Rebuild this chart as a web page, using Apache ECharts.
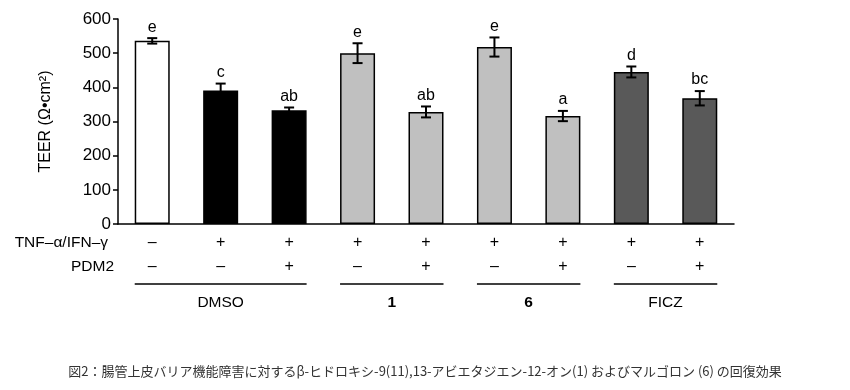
<!DOCTYPE html>
<html>
<head>
<meta charset="utf-8">
<script src="https://cdn.jsdelivr.net/npm/echarts@6/dist/echarts.min.js"></script>
<style>html,body{margin:0;padding:0;background:#fff}#c{width:850px;height:390px}</style>
</head>
<body>
<div id="c"></div>
<script>
const categories = ['c1','c2','c3','c4','c5','c6','c7','c8','c9'];
const tnfRow = ['–','+','+','+','+','+','+','+','+'];
const pdm2Row = ['–','–','+','–','+','–','+','–','+'];
const teerValues = [536, 391, 333, 500, 328, 518, 316, 445, 368];
const teerErrors = [8, 20, 8, 29, 16, 28, 15, 16, 21];
const sigLetters = ['e','c','ab','e','ab','e','a','d','bc'];
const barColors = ['#ffffff','#000000','#000000','#c0c0c0','#c0c0c0','#c0c0c0','#c0c0c0','#595959','#595959'];
const groupNames = ['DMSO','1','6','FICZ'];
const groupStart = [0, 3, 5, 7];
const groupEnd = [2, 4, 6, 8];
const groupBold = [false, true, true, false];
const yTicks = [0, 600, 100];
const caption = '図2：腸管上皮バリア機能障害に対するβ-ヒドロキシ-9(11),13-アビエタジエン-12-オン(1) およびマルゴロン (6) の回復効果';

const FONT = 'Liberation Sans, Arial, sans-serif';
const BAR_W = 35;

const chart = echarts.init(document.getElementById('c'));

const rowAxis = (labels, offset, name, gap) => ({
  type: 'category', data: categories, position: 'bottom', offset: offset,
  axisLine: {show: false}, axisTick: {show: false}, splitLine: {show: false},
  axisLabel: {interval: 0, margin: 0, verticalAlign: 'middle', fontSize: 16, color: '#000', fontFamily: FONT,
    formatter: (v, i) => labels[i]},
  name: name, nameLocation: 'start', nameGap: gap,
  nameTextStyle: {fontSize: 15.5, color: '#000', fontFamily: FONT, verticalAlign: 'middle', align: 'right'}
});

chart.setOption({
  animation: false,
  title: {
    text: caption, left: 'center', top: 360,
    textStyle: {fontSize: 13, fontWeight: 'normal', color: '#333', fontFamily: 'Noto Sans CJK JP'}
  },
  grid: {left: 118, right: 116, top: 19, bottom: 166, containLabel: false},
  xAxis: [
    {type: 'category', data: categories, axisLine: {lineStyle: {color: '#000', width: 1.5}},
     axisTick: {show: false}, axisLabel: {show: false}},
    rowAxis(tnfRow, 19, 'TNF–α/IFN–γ', 10),
    rowAxis(pdm2Row, 43, 'PDM2', 4)
  ],
  yAxis: {
    type: 'value', min: yTicks[0], max: yTicks[1], interval: yTicks[2],
    axisLine: {show: true, lineStyle: {color: '#000', width: 1.5}},
    axisTick: {show: true, length: 5, lineStyle: {color: '#000', width: 1.5}},
    splitLine: {show: false},
    axisLabel: {fontSize: 17, color: '#000', fontFamily: FONT, margin: 7},
    name: 'TEER (Ω•cm²)', nameLocation: 'middle', nameGap: 64,
    nameTextStyle: {fontSize: 16, color: '#000', fontFamily: FONT}
  },
  series: [
    {
      type: 'bar', barWidth: BAR_W,
      data: teerValues.map((v, i) => ({value: v, itemStyle: {color: barColors[i]}})),
      itemStyle: {borderColor: '#000', borderWidth: 1.5}
    },
    {
      type: 'custom', z: 5, clip: false,
      data: teerValues.map((v, i) => [i, v - teerErrors[i], v + teerErrors[i]]),
      renderItem: (params, api) => {
        const i = api.value(0);
        const lo = api.coord([i, api.value(1)]);
        const hi = api.coord([i, api.value(2)]);
        const x = lo[0], hw = 5;
        const st = {stroke: '#000', lineWidth: 2};
        return {type: 'group', children: [
          {type: 'line', shape: {x1: x, y1: lo[1], x2: x, y2: hi[1]}, style: st},
          {type: 'line', shape: {x1: x - hw, y1: lo[1], x2: x + hw, y2: lo[1]}, style: st},
          {type: 'line', shape: {x1: x - hw, y1: hi[1], x2: x + hw, y2: hi[1]}, style: st},
          {type: 'text', style: {text: sigLetters[i], x: x, y: hi[1] - 3, align: 'center', verticalAlign: 'bottom',
            fontSize: 16, fill: '#000', fontFamily: FONT}}
        ]};
      }
    },
    {
      type: 'custom', z: 5, clip: false,
      data: groupNames.map((g, k) => [groupStart[k], groupEnd[k], k]),
      renderItem: (params, api) => {
        const k = api.value(2);
        const p1 = api.coord([api.value(0), 0]);
        const p2 = api.coord([api.value(1), 0]);
        const x1 = p1[0] - BAR_W / 2, x2 = p2[0] + BAR_W / 2;
        const y = p1[1] + 60;
        return {type: 'group', children: [
          {type: 'line', shape: {x1: x1, y1: y, x2: x2, y2: y}, style: {stroke: '#000', lineWidth: 1.5}},
          {type: 'text', style: {text: groupNames[k], x: (x1 + x2) / 2, y: y + 19, align: 'center', verticalAlign: 'middle',
            fontSize: 15.5, fontWeight: groupBold[k] ? 'bold' : 'normal', fill: '#000', fontFamily: FONT}}
        ]};
      }
    }
  ]
});
</script>
</body>
</html>
